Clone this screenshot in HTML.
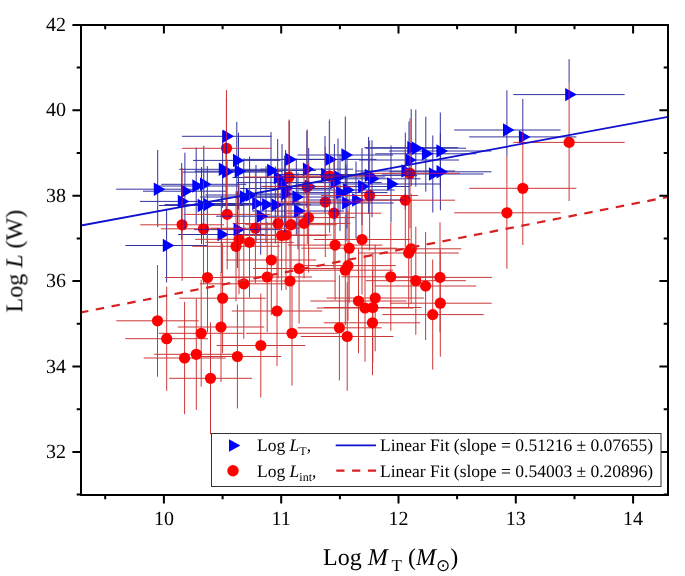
<!DOCTYPE html>
<html><head><meta charset="utf-8"><style>
html,body{margin:0;padding:0;background:#fff;width:685px;height:576px;overflow:hidden}
svg{display:block;font-family:"Liberation Serif",serif}
text{text-rendering:geometricPrecision}
</style></head><body>
<svg width="685" height="576" viewBox="0 0 685 576">
<rect width="685" height="576" fill="#fff"/>
<defs><clipPath id="pc"><rect x="81" y="25" width="587" height="470"/></clipPath></defs>
<g clip-path="url(#pc)">
<defs><clipPath id="ct"><path d="M165.4 189.2L153.8 182.5L153.8 195.9ZM192.6 191.2L181.1 184.5L181.1 197.9ZM189.4 201.4L177.8 194.7L177.8 208.1ZM203.9 186L192.3 179.3L192.3 192.7ZM211.5 184.3L200.0 177.6L200.0 191.0ZM209.2 205.5L197.7 198.8L197.7 212.2ZM215.0 204.6L203.5 197.9L203.5 211.3ZM229.0 234.5L217.5 227.8L217.5 241.2ZM174.3 245.5L162.8 238.8L162.8 252.2ZM234.1 136.3L222.6 129.6L222.6 143.0ZM244.5 160.4L233.0 153.7L233.0 167.1ZM246.2 171.2L234.7 164.5L234.7 177.9ZM230.3 169.3L218.8 162.6L218.8 176.0ZM233.8 172.1L222.2 165.4L222.2 178.8ZM251.5 197L240.0 190.3L240.0 203.7ZM257.3 195L245.8 188.3L245.8 201.7ZM263.7 203.5L252.2 196.8L252.2 210.2ZM273.7 204.6L262.1 197.9L262.1 211.3ZM283.0 205L271.4 198.3L271.4 211.7ZM268.4 216.2L256.8 209.5L256.8 222.9ZM292.3 194L280.8 187.3L280.8 200.7ZM304.0 197L292.4 190.3L292.4 203.7ZM305.7 211L294.1 204.3L294.1 217.7ZM245.1 229.6L233.6 222.9L233.6 236.3ZM278.7 170.5L267.1 163.8L267.1 177.2ZM297.0 159.4L285.4 152.7L285.4 166.1ZM314.5 169.2L302.9 162.5L302.9 175.9ZM337.0 159.4L325.4 152.7L325.4 166.1ZM332.7 174.5L321.1 167.8L321.1 181.2ZM353.0 155L341.4 148.3L341.4 161.7ZM418.9 147.7L407.3 141.0L407.3 154.4ZM423.5 148.2L411.9 141.5L411.9 154.9ZM433.5 153.8L421.9 147.1L421.9 160.5ZM448.0 151L436.4 144.3L436.4 157.7ZM413.0 171L401.4 164.3L401.4 177.7ZM416.7 160L405.1 153.3L405.1 166.7ZM440.5 174L428.9 167.3L428.9 180.7ZM448.1 171.8L436.5 165.1L436.5 178.5ZM376.3 175.4L364.8 168.7L364.8 182.1ZM398.7 184L387.1 177.3L387.1 190.7ZM342.1 182.6L330.5 175.9L330.5 189.3ZM285.4 177.5L273.8 170.8L273.8 184.2ZM289.7 182.6L278.1 175.9L278.1 189.3ZM293.3 188.5L281.8 181.8L281.8 195.2ZM316.4 186.4L304.8 179.7L304.8 193.1ZM369.7 186.5L358.1 179.8L358.1 193.2ZM379.7 178.8L368.1 172.1L368.1 185.5ZM347.7 192.6L336.1 185.9L336.1 199.3ZM354.7 190L343.1 183.3L343.1 196.7ZM345.7 177L334.1 170.3L334.1 183.7ZM353.7 203L342.1 196.3L342.1 209.7ZM363.7 200L352.1 193.3L352.1 206.7ZM514.6 130L503.0 123.3L503.0 136.7ZM530.5 136.9L518.9 130.2L518.9 143.6ZM576.8 94.6L565.2 87.9L565.2 101.3Z"/></clipPath><clipPath id="cc"><circle cx="226.5" cy="148.3" r="5.6"/><circle cx="182.1" cy="224.8" r="5.6"/><circle cx="203.5" cy="228.8" r="5.6"/><circle cx="227.2" cy="214.4" r="5.6"/><circle cx="255.4" cy="228.2" r="5.6"/><circle cx="278.1" cy="223.5" r="5.6"/><circle cx="291" cy="224.7" r="5.6"/><circle cx="304" cy="223.4" r="5.6"/><circle cx="281.6" cy="235.5" r="5.6"/><circle cx="286" cy="235" r="5.6"/><circle cx="239" cy="239.3" r="5.6"/><circle cx="236" cy="246.3" r="5.6"/><circle cx="249.5" cy="242.4" r="5.6"/><circle cx="289" cy="177" r="5.6"/><circle cx="307.3" cy="186.7" r="5.6"/><circle cx="329.6" cy="176" r="5.6"/><circle cx="410" cy="173.3" r="5.6"/><circle cx="369.6" cy="195.5" r="5.6"/><circle cx="569.1" cy="142.4" r="5.6"/><circle cx="522.8" cy="188.3" r="5.6"/><circle cx="506.9" cy="212.8" r="5.6"/><circle cx="157.5" cy="320.8" r="5.6"/><circle cx="166.7" cy="338.7" r="5.6"/><circle cx="207.5" cy="277.5" r="5.6"/><circle cx="201.2" cy="333.3" r="5.6"/><circle cx="184.6" cy="358" r="5.6"/><circle cx="196.3" cy="354.3" r="5.6"/><circle cx="210.5" cy="378.3" r="5.6"/><circle cx="237.4" cy="356.5" r="5.6"/><circle cx="260.8" cy="345.5" r="5.6"/><circle cx="271.3" cy="260" r="5.6"/><circle cx="299.1" cy="268.5" r="5.6"/><circle cx="267.2" cy="277" r="5.6"/><circle cx="290" cy="281" r="5.6"/><circle cx="243.8" cy="283.8" r="5.6"/><circle cx="222.6" cy="298.2" r="5.6"/><circle cx="277" cy="311" r="5.6"/><circle cx="221" cy="327" r="5.6"/><circle cx="292" cy="333.3" r="5.6"/><circle cx="335.1" cy="245.1" r="5.6"/><circle cx="349.2" cy="248.2" r="5.6"/><circle cx="362" cy="239.5" r="5.6"/><circle cx="348" cy="265.6" r="5.6"/><circle cx="345.3" cy="270.2" r="5.6"/><circle cx="390.8" cy="276.8" r="5.6"/><circle cx="358.5" cy="301" r="5.6"/><circle cx="375.2" cy="298" r="5.6"/><circle cx="365" cy="308" r="5.6"/><circle cx="372.8" cy="307.5" r="5.6"/><circle cx="372.5" cy="322.8" r="5.6"/><circle cx="339.4" cy="327.8" r="5.6"/><circle cx="347.2" cy="336.5" r="5.6"/><circle cx="405.3" cy="200.2" r="5.6"/><circle cx="411.2" cy="248.8" r="5.6"/><circle cx="408.7" cy="253" r="5.6"/><circle cx="415.8" cy="280.7" r="5.6"/><circle cx="440" cy="277.4" r="5.6"/><circle cx="425.6" cy="286" r="5.6"/><circle cx="440.3" cy="303.2" r="5.6"/><circle cx="432.7" cy="314.6" r="5.6"/><circle cx="325.3" cy="202" r="5.6"/><circle cx="333.9" cy="213.2" r="5.6"/><circle cx="308.6" cy="217.6" r="5.6"/></clipPath></defs>
<path d="M116.2 189.2H199.1M157.7 150.0V227.0M143.0 191.2H226.8M184.9 152.7V229.7M139.9 201.4H223.5M181.7 162.9V239.9M153.9 186H238.5M196.2 147.5V224.5M161.2 184.3H246.4M203.8 145.8V222.8M159.0 205.5H244.0M201.5 167.0V244.0M164.6 204.6H250.0M207.3 166.1V243.1M178.0 234.5H264.6M221.3 196.0V273.0M125.4 245.5H207.5M166.6 208.8V282.5M182.0 136.3H271.5M226.4 97.8V174.8M193.0 160.4H280.6M236.8 121.9V198.9M194.7 171.2H282.3M238.5 132.7V209.7M179.3 169.3H265.9M222.6 130.8V207.8M182.7 172.1H269.5M226.1 133.6V210.6M199.8 197H287.8M243.8 158.5V235.5M205.4 195H293.8M249.6 156.5V233.5M211.5 203.5H300.5M256 165.0V242.0M221.2 204.6H310.8M266 166.1V243.1M230.1 205H320.5M275.3 166.5V243.5M216.1 216.2H305.3M260.7 177.7V254.7M239.1 194H330.1M284.6 155.5V232.5M250.4 197H342.2M296.3 158.5V235.5M252.0 211H344.0M298 172.5V249.5M194.0 229.6H280.8M237.4 191.1V268.1M226.0 170.5H316.0M271 132.0V209.0M243.6 159.4H335.0M289.3 120.9V197.9M260.5 169.2H353.1M306.8 130.7V207.7M282.2 159.4H376.4M329.3 120.9V197.9M278.1 174.5H371.9M325 136.0V213.0M297.6 155H393.0M345.3 116.5V193.5M364.4 147.7H458.0M411.2 109.2V186.2M365.6 148.2H466.0M415.8 109.7V186.7M375.2 153.8H476.4M425.8 116.7V191.7M389.2 151H491.4M440.3 112.5V189.5M355.5 171H455.1M405.3 132.5V209.5M359.0 160H459.0M409 121.5V198.5M382.0 174H483.6M432.8 135.5V212.5M389.3 171.8H491.5M440.4 133.3V210.3M320.1 175.4H417.1M368.6 136.9V213.9M341.7 184H440.3M391 145.5V222.5M287.1 182.6H381.7M334.4 144.1V221.1M232.5 177.5H322.9M277.7 139.0V216.0M236.6 182.6H327.4M282 144.1V221.1M240.1 188.5H331.1M285.6 150.0V227.0M262.3 186.4H355.1M308.7 147.9V224.9M313.7 186.5H410.3M362 148.0V225.0M323.4 178.8H420.6M372 140.3V217.3M292.5 192.6H387.5M340 154.1V231.1M299.3 190H394.7M347 151.5V228.5M290.6 177H385.4M338 138.5V215.5M298.3 203H393.7M346 164.5V241.5M307.9 200H404.1M356 161.5V238.5M454.2 130H560.6M506.9 90.3V156.4M469.2 136.9H576.4M522.8 98.9V141.0M513.3 94.6H624.7M569.1 59.2V83.7" stroke="#3333a0" stroke-width="1.0" fill="none"/>
<path d="M182.0 148.3H271.5M226.5 90.0V206.6M140.2 224.8H224.0M182.1 168.0V280.8M160.9 228.8H246.1M203.5 173.8V283.8M183.8 214.4H270.6M227.2 159.4V269.4M211.0 228.2H299.8M255.4 173.2V283.2M232.8 223.5H323.4M278.1 168.5V278.5M245.3 224.7H336.7M291 169.7V279.7M257.8 223.4H350.2M304 168.4V278.4M236.2 235.5H327.0M281.6 180.5V290.5M240.5 235H331.5M286 180.0V290.0M195.2 239.3H282.8M239 184.3V294.3M192.3 246.3H279.7M236 191.3V301.3M205.3 242.4H293.7M249.5 187.4V297.4M243.4 177H334.6M289 119.5V234.5M261.0 186.7H353.6M307.3 129.5V243.9M282.5 176H376.7M329.6 119.3V232.7M360.0 173.3H460.0M410 118.3V228.3M321.1 195.5H418.1M369.6 140.5V250.5M513.3 142.4H624.7M569.1 83.7V201.0M469.2 188.3H576.4M522.8 131.6V245.0M454.2 212.8H560.6M506.9 156.4V268.8M116.3 320.8H198.7M157.5 265.0V376.7M125.3 338.7H208.0M166.7 286.7V390.8M164.8 277.5H250.2M207.5 222.5V332.5M158.7 333.3H243.7M201.2 279.9V386.7M143.7 358H225.8M184.6 301.8V414.2M154.2 354.3H238.4M196.3 298.6V410.0M169.2 378.3H252.0M210.5 322.4V434.2M193.6 356.5H281.2M237.4 304.5V408.5M216.7 345.5H305.4M260.8 293.5V397.5M226.3 260H316.3M271.3 205.0V315.0M253.1 268.5H345.1M299.1 213.5V323.5M222.3 277H312.1M267.2 222.0V332.0M244.3 281H335.7M290 226.0V336.0M199.8 283.8H287.8M243.8 228.8V338.8M179.3 298.2H265.9M222.6 243.2V353.2M231.8 311H322.2M277 256.0V366.0M177.8 327H264.2M221 272.0V382.0M246.2 333.3H337.8M292 281.0V385.6M287.8 245.1H382.4M335.1 190.1V300.1M301.4 248.2H397.0M349.2 193.2V303.2M313.7 239.5H410.3M362 184.5V294.5M300.2 265.6H395.8M348 210.6V320.6M297.6 270.2H393.0M345.3 215.2V325.2M341.5 276.8H440.1M390.8 222.8V330.8M310.4 301H406.6M358.5 248.7V353.3M326.5 298H423.9M375.2 244.7V351.3M316.6 308H413.4M365 254.3V361.7M324.1 307.5H421.5M372.8 252.5V362.5M323.8 322.8H420.0M372.5 270.4V375.2M297.7 327.8H381.7M339.4 275.2V380.4M300.8 336.5H393.5M347.2 282.2V390.8M355.5 200.2H455.1M405.3 145.2V255.2M361.2 248.8H461.2M411.2 193.8V303.8M358.7 253H458.7M408.7 198.0V308.0M365.8 280.7H465.8M415.8 226.7V334.7M388.0 277.4H492.0M440 222.4V332.4M374.9 286H476.3M425.6 232.0V340.0M390.0 303.2H491.7M440.3 249.7V356.7M382.5 314.6H483.7M432.7 259.6V369.6M278.3 202H372.3M325.3 147.0V257.0M286.6 213.2H381.2M333.9 158.2V268.2M262.3 217.6H354.9M308.6 162.6V272.6" stroke="#cc3838" stroke-width="1.0" fill="none"/>
<path d="M165.4 189.2L153.8 182.5L153.8 195.9ZM192.6 191.2L181.1 184.5L181.1 197.9ZM189.4 201.4L177.8 194.7L177.8 208.1ZM203.9 186L192.3 179.3L192.3 192.7ZM211.5 184.3L200.0 177.6L200.0 191.0ZM209.2 205.5L197.7 198.8L197.7 212.2ZM215.0 204.6L203.5 197.9L203.5 211.3ZM229.0 234.5L217.5 227.8L217.5 241.2ZM174.3 245.5L162.8 238.8L162.8 252.2ZM234.1 136.3L222.6 129.6L222.6 143.0ZM244.5 160.4L233.0 153.7L233.0 167.1ZM246.2 171.2L234.7 164.5L234.7 177.9ZM230.3 169.3L218.8 162.6L218.8 176.0ZM233.8 172.1L222.2 165.4L222.2 178.8ZM251.5 197L240.0 190.3L240.0 203.7ZM257.3 195L245.8 188.3L245.8 201.7ZM263.7 203.5L252.2 196.8L252.2 210.2ZM273.7 204.6L262.1 197.9L262.1 211.3ZM283.0 205L271.4 198.3L271.4 211.7ZM268.4 216.2L256.8 209.5L256.8 222.9ZM292.3 194L280.8 187.3L280.8 200.7ZM304.0 197L292.4 190.3L292.4 203.7ZM305.7 211L294.1 204.3L294.1 217.7ZM245.1 229.6L233.6 222.9L233.6 236.3ZM278.7 170.5L267.1 163.8L267.1 177.2ZM297.0 159.4L285.4 152.7L285.4 166.1ZM314.5 169.2L302.9 162.5L302.9 175.9ZM337.0 159.4L325.4 152.7L325.4 166.1ZM332.7 174.5L321.1 167.8L321.1 181.2ZM353.0 155L341.4 148.3L341.4 161.7ZM418.9 147.7L407.3 141.0L407.3 154.4ZM423.5 148.2L411.9 141.5L411.9 154.9ZM433.5 153.8L421.9 147.1L421.9 160.5ZM448.0 151L436.4 144.3L436.4 157.7ZM413.0 171L401.4 164.3L401.4 177.7ZM416.7 160L405.1 153.3L405.1 166.7ZM440.5 174L428.9 167.3L428.9 180.7ZM448.1 171.8L436.5 165.1L436.5 178.5ZM376.3 175.4L364.8 168.7L364.8 182.1ZM398.7 184L387.1 177.3L387.1 190.7ZM342.1 182.6L330.5 175.9L330.5 189.3ZM285.4 177.5L273.8 170.8L273.8 184.2ZM289.7 182.6L278.1 175.9L278.1 189.3ZM293.3 188.5L281.8 181.8L281.8 195.2ZM316.4 186.4L304.8 179.7L304.8 193.1ZM369.7 186.5L358.1 179.8L358.1 193.2ZM379.7 178.8L368.1 172.1L368.1 185.5ZM347.7 192.6L336.1 185.9L336.1 199.3ZM354.7 190L343.1 183.3L343.1 196.7ZM345.7 177L334.1 170.3L334.1 183.7ZM353.7 203L342.1 196.3L342.1 209.7ZM363.7 200L352.1 193.3L352.1 206.7ZM514.6 130L503.0 123.3L503.0 136.7ZM530.5 136.9L518.9 130.2L518.9 143.6ZM576.8 94.6L565.2 87.9L565.2 101.3Z" fill="#00f"/>
<g fill="#f00"><circle cx="226.5" cy="148.3" r="5.6"/><circle cx="182.1" cy="224.8" r="5.6"/><circle cx="203.5" cy="228.8" r="5.6"/><circle cx="227.2" cy="214.4" r="5.6"/><circle cx="255.4" cy="228.2" r="5.6"/><circle cx="278.1" cy="223.5" r="5.6"/><circle cx="291" cy="224.7" r="5.6"/><circle cx="304" cy="223.4" r="5.6"/><circle cx="281.6" cy="235.5" r="5.6"/><circle cx="286" cy="235" r="5.6"/><circle cx="239" cy="239.3" r="5.6"/><circle cx="236" cy="246.3" r="5.6"/><circle cx="249.5" cy="242.4" r="5.6"/><circle cx="289" cy="177" r="5.6"/><circle cx="307.3" cy="186.7" r="5.6"/><circle cx="329.6" cy="176" r="5.6"/><circle cx="410" cy="173.3" r="5.6"/><circle cx="369.6" cy="195.5" r="5.6"/><circle cx="569.1" cy="142.4" r="5.6"/><circle cx="522.8" cy="188.3" r="5.6"/><circle cx="506.9" cy="212.8" r="5.6"/><circle cx="157.5" cy="320.8" r="5.6"/><circle cx="166.7" cy="338.7" r="5.6"/><circle cx="207.5" cy="277.5" r="5.6"/><circle cx="201.2" cy="333.3" r="5.6"/><circle cx="184.6" cy="358" r="5.6"/><circle cx="196.3" cy="354.3" r="5.6"/><circle cx="210.5" cy="378.3" r="5.6"/><circle cx="237.4" cy="356.5" r="5.6"/><circle cx="260.8" cy="345.5" r="5.6"/><circle cx="271.3" cy="260" r="5.6"/><circle cx="299.1" cy="268.5" r="5.6"/><circle cx="267.2" cy="277" r="5.6"/><circle cx="290" cy="281" r="5.6"/><circle cx="243.8" cy="283.8" r="5.6"/><circle cx="222.6" cy="298.2" r="5.6"/><circle cx="277" cy="311" r="5.6"/><circle cx="221" cy="327" r="5.6"/><circle cx="292" cy="333.3" r="5.6"/><circle cx="335.1" cy="245.1" r="5.6"/><circle cx="349.2" cy="248.2" r="5.6"/><circle cx="362" cy="239.5" r="5.6"/><circle cx="348" cy="265.6" r="5.6"/><circle cx="345.3" cy="270.2" r="5.6"/><circle cx="390.8" cy="276.8" r="5.6"/><circle cx="358.5" cy="301" r="5.6"/><circle cx="375.2" cy="298" r="5.6"/><circle cx="365" cy="308" r="5.6"/><circle cx="372.8" cy="307.5" r="5.6"/><circle cx="372.5" cy="322.8" r="5.6"/><circle cx="339.4" cy="327.8" r="5.6"/><circle cx="347.2" cy="336.5" r="5.6"/><circle cx="405.3" cy="200.2" r="5.6"/><circle cx="411.2" cy="248.8" r="5.6"/><circle cx="408.7" cy="253" r="5.6"/><circle cx="415.8" cy="280.7" r="5.6"/><circle cx="440" cy="277.4" r="5.6"/><circle cx="425.6" cy="286" r="5.6"/><circle cx="440.3" cy="303.2" r="5.6"/><circle cx="432.7" cy="314.6" r="5.6"/><circle cx="325.3" cy="202" r="5.6"/><circle cx="333.9" cy="213.2" r="5.6"/><circle cx="308.6" cy="217.6" r="5.6"/></g>
<path d="M182.0 148.3H271.5M226.5 90.0V206.6M140.2 224.8H224.0M182.1 168.0V280.8M160.9 228.8H246.1M203.5 173.8V283.8M183.8 214.4H270.6M227.2 159.4V269.4M211.0 228.2H299.8M255.4 173.2V283.2M232.8 223.5H323.4M278.1 168.5V278.5M245.3 224.7H336.7M291 169.7V279.7M257.8 223.4H350.2M304 168.4V278.4M236.2 235.5H327.0M281.6 180.5V290.5M240.5 235H331.5M286 180.0V290.0M195.2 239.3H282.8M239 184.3V294.3M192.3 246.3H279.7M236 191.3V301.3M205.3 242.4H293.7M249.5 187.4V297.4M243.4 177H334.6M289 119.5V234.5M261.0 186.7H353.6M307.3 129.5V243.9M282.5 176H376.7M329.6 119.3V232.7M360.0 173.3H460.0M410 118.3V228.3M321.1 195.5H418.1M369.6 140.5V250.5M513.3 142.4H624.7M569.1 83.7V201.0M469.2 188.3H576.4M522.8 131.6V245.0M454.2 212.8H560.6M506.9 156.4V268.8M116.3 320.8H198.7M157.5 265.0V376.7M125.3 338.7H208.0M166.7 286.7V390.8M164.8 277.5H250.2M207.5 222.5V332.5M158.7 333.3H243.7M201.2 279.9V386.7M143.7 358H225.8M184.6 301.8V414.2M154.2 354.3H238.4M196.3 298.6V410.0M169.2 378.3H252.0M210.5 322.4V434.2M193.6 356.5H281.2M237.4 304.5V408.5M216.7 345.5H305.4M260.8 293.5V397.5M226.3 260H316.3M271.3 205.0V315.0M253.1 268.5H345.1M299.1 213.5V323.5M222.3 277H312.1M267.2 222.0V332.0M244.3 281H335.7M290 226.0V336.0M199.8 283.8H287.8M243.8 228.8V338.8M179.3 298.2H265.9M222.6 243.2V353.2M231.8 311H322.2M277 256.0V366.0M177.8 327H264.2M221 272.0V382.0M246.2 333.3H337.8M292 281.0V385.6M287.8 245.1H382.4M335.1 190.1V300.1M301.4 248.2H397.0M349.2 193.2V303.2M313.7 239.5H410.3M362 184.5V294.5M300.2 265.6H395.8M348 210.6V320.6M297.6 270.2H393.0M345.3 215.2V325.2M341.5 276.8H440.1M390.8 222.8V330.8M310.4 301H406.6M358.5 248.7V353.3M326.5 298H423.9M375.2 244.7V351.3M316.6 308H413.4M365 254.3V361.7M324.1 307.5H421.5M372.8 252.5V362.5M323.8 322.8H420.0M372.5 270.4V375.2M297.7 327.8H381.7M339.4 275.2V380.4M300.8 336.5H393.5M347.2 282.2V390.8M355.5 200.2H455.1M405.3 145.2V255.2M361.2 248.8H461.2M411.2 193.8V303.8M358.7 253H458.7M408.7 198.0V308.0M365.8 280.7H465.8M415.8 226.7V334.7M388.0 277.4H492.0M440 222.4V332.4M374.9 286H476.3M425.6 232.0V340.0M390.0 303.2H491.7M440.3 249.7V356.7M382.5 314.6H483.7M432.7 259.6V369.6M278.3 202H372.3M325.3 147.0V257.0M286.6 213.2H381.2M333.9 158.2V268.2M262.3 217.6H354.9M308.6 162.6V272.6" stroke="#b01070" stroke-width="1.0" fill="none" clip-path="url(#ct)"/>
<path d="M116.2 189.2H199.1M157.7 150.0V227.0M143.0 191.2H226.8M184.9 152.7V229.7M139.9 201.4H223.5M181.7 162.9V239.9M153.9 186H238.5M196.2 147.5V224.5M161.2 184.3H246.4M203.8 145.8V222.8M159.0 205.5H244.0M201.5 167.0V244.0M164.6 204.6H250.0M207.3 166.1V243.1M178.0 234.5H264.6M221.3 196.0V273.0M125.4 245.5H207.5M166.6 208.8V282.5M182.0 136.3H271.5M226.4 97.8V174.8M193.0 160.4H280.6M236.8 121.9V198.9M194.7 171.2H282.3M238.5 132.7V209.7M179.3 169.3H265.9M222.6 130.8V207.8M182.7 172.1H269.5M226.1 133.6V210.6M199.8 197H287.8M243.8 158.5V235.5M205.4 195H293.8M249.6 156.5V233.5M211.5 203.5H300.5M256 165.0V242.0M221.2 204.6H310.8M266 166.1V243.1M230.1 205H320.5M275.3 166.5V243.5M216.1 216.2H305.3M260.7 177.7V254.7M239.1 194H330.1M284.6 155.5V232.5M250.4 197H342.2M296.3 158.5V235.5M252.0 211H344.0M298 172.5V249.5M194.0 229.6H280.8M237.4 191.1V268.1M226.0 170.5H316.0M271 132.0V209.0M243.6 159.4H335.0M289.3 120.9V197.9M260.5 169.2H353.1M306.8 130.7V207.7M282.2 159.4H376.4M329.3 120.9V197.9M278.1 174.5H371.9M325 136.0V213.0M297.6 155H393.0M345.3 116.5V193.5M364.4 147.7H458.0M411.2 109.2V186.2M365.6 148.2H466.0M415.8 109.7V186.7M375.2 153.8H476.4M425.8 116.7V191.7M389.2 151H491.4M440.3 112.5V189.5M355.5 171H455.1M405.3 132.5V209.5M359.0 160H459.0M409 121.5V198.5M382.0 174H483.6M432.8 135.5V212.5M389.3 171.8H491.5M440.4 133.3V210.3M320.1 175.4H417.1M368.6 136.9V213.9M341.7 184H440.3M391 145.5V222.5M287.1 182.6H381.7M334.4 144.1V221.1M232.5 177.5H322.9M277.7 139.0V216.0M236.6 182.6H327.4M282 144.1V221.1M240.1 188.5H331.1M285.6 150.0V227.0M262.3 186.4H355.1M308.7 147.9V224.9M313.7 186.5H410.3M362 148.0V225.0M323.4 178.8H420.6M372 140.3V217.3M292.5 192.6H387.5M340 154.1V231.1M299.3 190H394.7M347 151.5V228.5M290.6 177H385.4M338 138.5V215.5M298.3 203H393.7M346 164.5V241.5M307.9 200H404.1M356 161.5V238.5M454.2 130H560.6M506.9 90.3V156.4M469.2 136.9H576.4M522.8 98.9V141.0M513.3 94.6H624.7M569.1 59.2V83.7" stroke="#4010a0" stroke-width="1.0" fill="none" clip-path="url(#cc)"/>
<line x1="81" y1="225.5" x2="668" y2="116.8" stroke="#1010d0" stroke-width="1.8"/>
<line x1="80" y1="312.6" x2="668" y2="197" stroke="#d82020" stroke-width="2.2" stroke-dasharray="8.5 7.56"/>
</g>
<path d="M81 25H668V495H81Z" fill="none" stroke="#000" stroke-width="2"/>
<path d="M163.9 495v8.6M163.9 25v8.6M281.2 495v8.6M281.2 25v8.6M398.5 495v8.6M398.5 25v8.6M515.8 495v8.6M515.8 25v8.6M633.1 495v8.6M633.1 25v8.6M105.2 495v4.3M105.2 25v4.3M222.6 495v4.3M222.6 25v4.3M339.9 495v4.3M339.9 25v4.3M457.1 495v4.3M457.1 25v4.3M574.5 495v4.3M574.5 25v4.3M81 451.9h-8.6M668 451.9h-8.6M81 366.5h-8.6M668 366.5h-8.6M81 281.1h-8.6M668 281.1h-8.6M81 195.7h-8.6M668 195.7h-8.6M81 110.3h-8.6M668 110.3h-8.6M81 24.9h-8.6M668 24.9h-8.6M81 494.6h-4.3M668 494.6h-4.3M81 409.2h-4.3M668 409.2h-4.3M81 323.8h-4.3M668 323.8h-4.3M81 238.4h-4.3M668 238.4h-4.3M81 153.0h-4.3M668 153.0h-4.3M81 67.6h-4.3M668 67.6h-4.3" stroke="#000" stroke-width="2" fill="none"/>
<rect x="211.5" y="433.5" width="449.5" height="53" fill="#fff" stroke="#333" stroke-width="1"/>
<g opacity="0.999">
<text x="163.9" y="525" font-family="Liberation Serif, serif" font-size="20" text-anchor="middle">10</text>
<text x="281.2" y="525" font-family="Liberation Serif, serif" font-size="20" text-anchor="middle">11</text>
<text x="398.5" y="525" font-family="Liberation Serif, serif" font-size="20" text-anchor="middle">12</text>
<text x="515.8" y="525" font-family="Liberation Serif, serif" font-size="20" text-anchor="middle">13</text>
<text x="633.1" y="525" font-family="Liberation Serif, serif" font-size="20" text-anchor="middle">14</text>
<text x="66" y="457.9" font-family="Liberation Serif, serif" font-size="20" text-anchor="end">32</text>
<text x="66" y="372.5" font-family="Liberation Serif, serif" font-size="20" text-anchor="end">34</text>
<text x="66" y="287.1" font-family="Liberation Serif, serif" font-size="20" text-anchor="end">36</text>
<text x="66" y="201.7" font-family="Liberation Serif, serif" font-size="20" text-anchor="end">38</text>
<text x="66" y="116.3" font-family="Liberation Serif, serif" font-size="20" text-anchor="end">40</text>
<text x="66" y="30.9" font-family="Liberation Serif, serif" font-size="20" text-anchor="end">42</text>
<text x="323" y="564.5" font-family="Liberation Serif, serif" font-size="24">Log <tspan font-style="italic">M</tspan><tspan font-size="17" dy="6"> T</tspan><tspan dy="-6"> (</tspan><tspan font-style="italic">M</tspan><tspan dy="6" font-size="17">⊙</tspan><tspan dy="-6">)</tspan></text>
<text transform="translate(22.3 312.5) rotate(-90)" font-family="Liberation Serif, serif" font-size="24">Log <tspan font-style="italic">L</tspan> (W)</text>
<path d="M240.4 445.5L229 439.3L229 451.7Z" fill="#00f"/>
<circle cx="233" cy="470.7" r="5.7" fill="#f00"/>
<text x="257" y="451" font-family="Liberation Serif, serif" font-size="17.5">Log <tspan font-style="italic">L</tspan><tspan font-size="12" dy="4">T</tspan><tspan dy="-4">,</tspan></text>
<text x="257" y="476.5" font-family="Liberation Serif, serif" font-size="17.5">Log <tspan font-style="italic">L</tspan><tspan font-size="12" dy="4">int</tspan><tspan dy="-4">,</tspan></text>
<line x1="335.7" y1="445.4" x2="376" y2="445.4" stroke="#1010d0" stroke-width="1.8"/>
<line x1="336.3" y1="470.7" x2="376.2" y2="470.7" stroke="#d82020" stroke-width="2.2" stroke-dasharray="8.2 7.6"/>
<text x="380" y="451" font-family="Liberation Serif, serif" font-size="17.5">Linear Fit (slope = 0.51216 ± 0.07655)</text>
<text x="380" y="476.5" font-family="Liberation Serif, serif" font-size="17.5">Linear Fit (slope = 0.54003 ± 0.20896)</text>
</g>
</svg>
</body></html>
